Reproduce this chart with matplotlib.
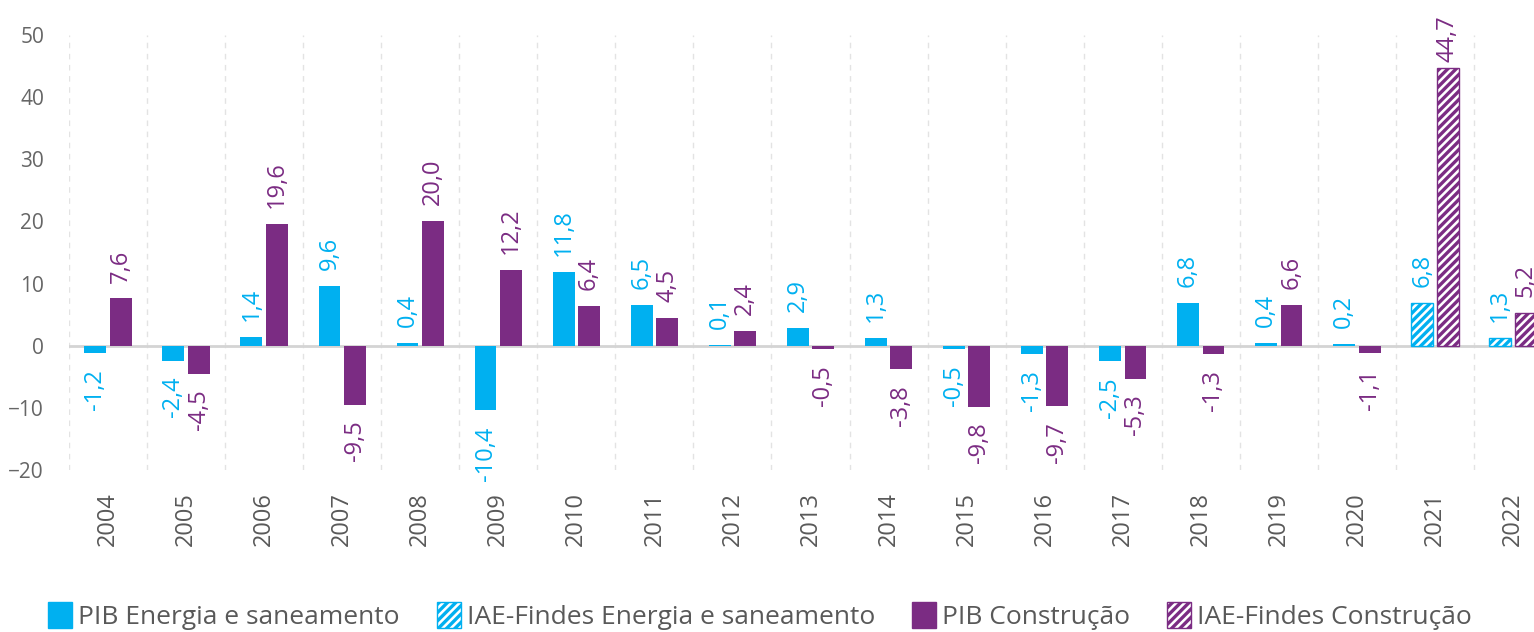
import matplotlib
matplotlib.use("Agg")
import matplotlib.pyplot as plt
import numpy as np
from matplotlib.patches import Patch

plt.rcParams['font.family'] = ['Open Sans', 'DejaVu Sans']
plt.rcParams['hatch.linewidth'] = 2.4

# dados
anos = ['2004', '2005', '2006', '2007', '2008', '2009', '2010', '2011', '2012', '2013',
        '2014', '2015', '2016', '2017', '2018', '2019', '2020', '2021', '2022']
pib_energia = [-1.2, -2.4, 1.4, 9.6, 0.4, -10.4, 11.8, 6.5, 0.1, 2.9,
               1.3, -0.5, -1.3, -2.5, 6.8, 0.4, 0.2, 6.8, 1.3]
pib_construcao = [7.6, -4.5, 19.6, -9.5, 20.0, 12.2, 6.4, 4.5, 2.4, -0.5,
                  -3.8, -9.8, -9.7, -5.3, -1.3, 6.6, -1.1, 44.7, 5.2]
# anos com estimativa IAE-Findes
iae = [False] * 17 + [True, True]

azul = '#00B0F0'
roxo = '#7B2C83'
cinza = '#595959'

fig = plt.figure(figsize=(15.34, 6.32), dpi=100)
ax = fig.add_axes([69 / 1534, 1 - 470 / 632, 1483 / 1534, 435 / 632])

x = np.arange(len(anos))
w = 0.28
off = 0.163

for i in range(len(anos)):
    for val, dx, cor in [(pib_energia[i], -off, azul), (pib_construcao[i], off, roxo)]:
        if iae[i]:
            ax.bar(x[i] + dx, val, w, facecolor='white', edgecolor=cor, hatch='////', linewidth=1.0, zorder=3)
        else:
            ax.bar(x[i] + dx, val, w, color=cor, zorder=3)
        txt = f"{val:.1f}".replace('.', ',')
        # rótulo empurrado para dentro da figura quando não cabe
        dy = 11.5 if val >= 0 else -11.5
        if val > 40:
            dy = 4
        ax.annotate(txt, (x[i] + dx, val), xytext=(0, dy),
                    textcoords='offset points', rotation=90, ha='center',
                    va='bottom' if val >= 0 else 'top', color=cor, fontsize=17,
                    annotation_clip=False, zorder=4)

ax.axhline(0, color='#d4d4d4', lw=2, zorder=2)
ax.set_xlim(-0.5, len(anos) - 0.5)
ax.set_ylim(-20, 50)
ax.set_yticks(range(-20, 51, 10))
ax.set_xticks(x)
ax.set_xticklabels(anos, rotation=90)
ax.set_xticks(np.arange(-0.5, len(anos), 1), minor=True)
ax.grid(which='minor', axis='x', color='#e3e3e3', ls=(0, (4, 4)), lw=1)
ax.tick_params(axis='y', length=0, pad=18, labelsize=15, labelcolor='#666666')
ax.tick_params(axis='x', which='major', length=0, pad=16, labelsize=17, labelcolor=cinza)
ax.tick_params(axis='x', which='minor', length=0)
for s in ax.spines.values():
    s.set_visible(False)

handles = [
    Patch(facecolor=azul, edgecolor=azul),
    Patch(facecolor='white', edgecolor=azul, hatch='////'),
    Patch(facecolor=roxo, edgecolor=roxo),
    Patch(facecolor='white', edgecolor=roxo, hatch='////'),
]
labels = ['PIB Energia e saneamento', 'IAE-Findes Energia e saneamento',
          'PIB Construção', 'IAE-Findes Construção']
fig.legend(handles, labels, ncol=4, loc='center left', bbox_to_anchor=(48 / 1534, 1 - 616 / 632),
           frameon=False, fontsize=19, handlelength=0.91, handleheight=1.17,
           handletextpad=0.23, columnspacing=1.4, labelcolor=cinza,
           borderpad=0, borderaxespad=0)

fig.savefig('out.png', dpi=100)
